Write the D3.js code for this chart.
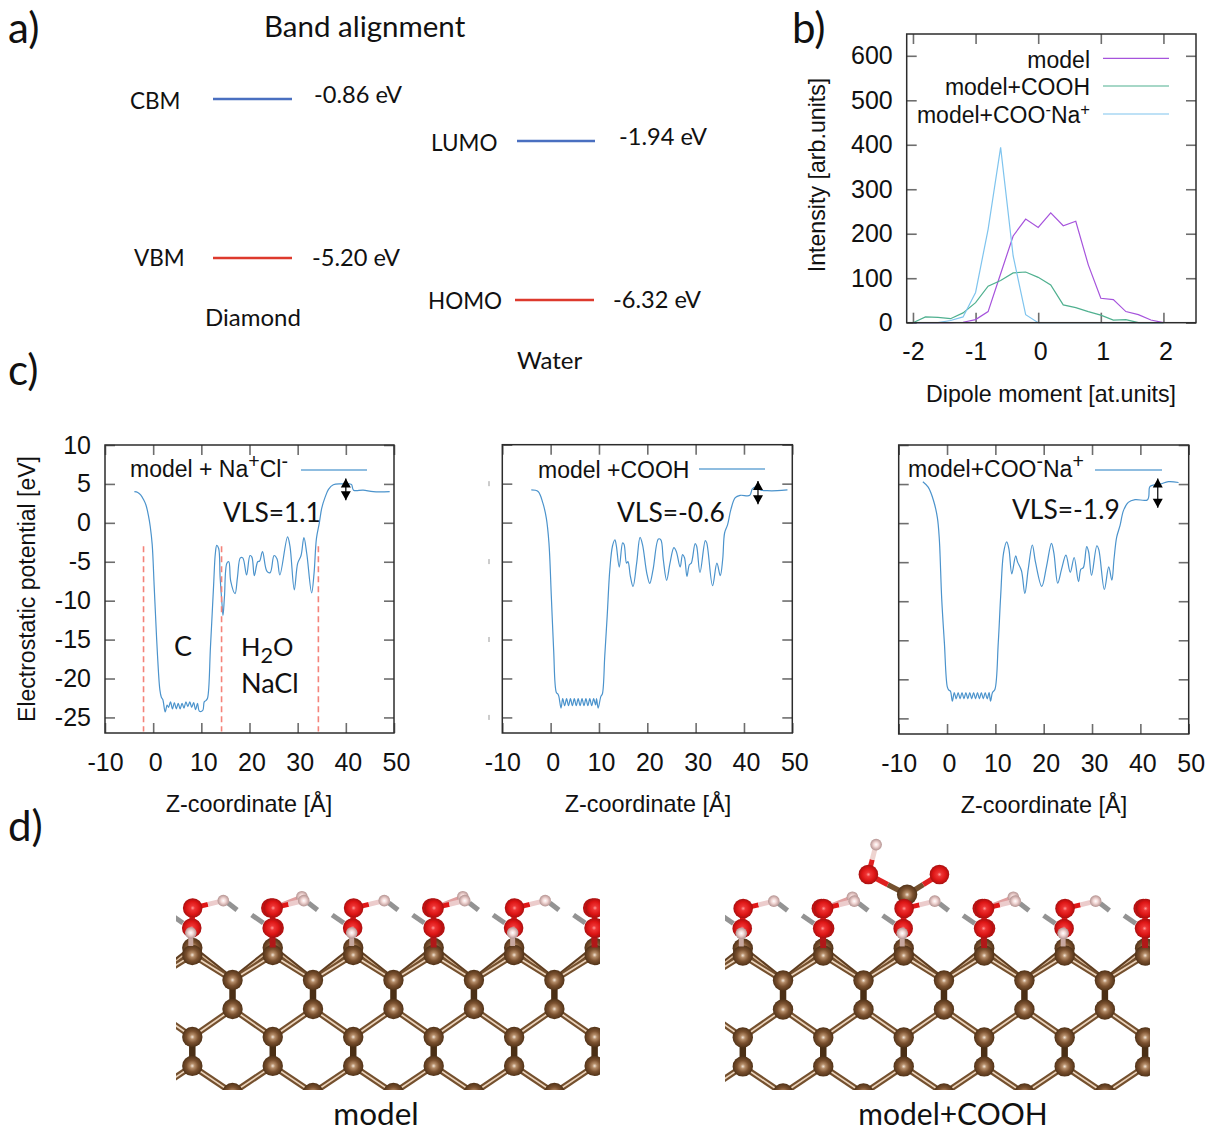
<!DOCTYPE html>
<html>
<head>
<meta charset="utf-8">
<script src="https://cdn.jsdelivr.net/npm/d3@7"></script>
<style>
html,body{margin:0;padding:0;background:#fff;}
svg{display:block;}
text{fill:#111;}
</style>
</head>
<body>
<svg id="chart" width="1216" height="1134"></svg>
<script>
// ---------- Panel a: band alignment (eV) ----------
const diamondBands = [{name:"CBM", value:-0.86, label:"-0.86 eV"},{name:"VBM", value:-5.20, label:"-5.20 eV"}];
const waterBands = [{name:"LUMO", value:-1.94, label:"-1.94 eV"},{name:"HOMO", value:-6.32, label:"-6.32 eV"}];

// ---------- Panel b: dipole histogram ----------
const dipoleBins = [-2,-1.8,-1.6,-1.4,-1.2,-1,-0.8,-0.6,-0.4,-0.2,0,0.2,0.4,0.6,0.8,1,1.2,1.4,1.6,1.8,2];
const modelIntensity = [0,0,0,0,1,7,25,110,195,233,214,247,218,228,130,55,52,25,18,6,0];
const coohIntensity = [0,13,12,9,22,45,82,95,112,114,102,85,40,34,25,17,6,7,0,0,0];
const cooNaIntensity = [0,0,0,5,13,68,210,394,150,18,0,0,0,0,0,0,0,0,0,0,0];
const dipoleTicks = [-2,-1,0,1,2];
const intensityTicks = [0,100,200,300,400,500,600];

// ---------- Panel c: electrostatic potential ----------
const zNaCl = [-3.9,-3.2,-2.6,-2,-1.5,-1,-0.6,-0.2,0.2,0.5,0.9,1.4,1.7,2,2.5,2.9,3.2,3.6,4,4.4,4.8,5.2,5.6,6,6.4,6.8,7.2,7.6,8,8.4,8.8,9.2,9.6,10.3,10.6,11,11.3,11.9,12.55,12.9,13.2,13.6,13.9,14.3,14.5,14.8,15.3,15.7,16.1,17,17.5,18.1,18.6,19.4,20.1,20.5,21,21.7,22.1,22.7,23.6,24.3,25.1,25.7,26.3,27.9,28.4,29.3,30,30.7,31.3,31.9,32.9,33.4,33.9,34.5,35,35.7,36.4,37.4,39.1,40.8,41.2,41.6,43.6,45.7,49.1];
const vNaCl = [4,3.9,3.6,3,2.3,1,-0.5,-2.8,-8,-12,-17,-21.5,-22.4,-22.7,-24.3,-23.4,-23.7,-23,-23.9,-23.1,-23.9,-23.2,-23.9,-23.2,-23.8,-23,-23.6,-23,-23.7,-23.1,-24,-23.2,-24.2,-24.1,-23,-22.8,-22.5,-15.9,-8,-4,-2.9,-3.3,-7,-10.5,-11.9,-9.5,-5.2,-5,-7.5,-9.1,-7,-4.5,-4.5,-6.7,-4.2,-4.4,-6.8,-5,-4.9,-3.7,-6.2,-6.4,-4.2,-4.6,-6.7,-1.8,-3,-8.6,-5.2,-4.2,-1.9,-4,-9,-6.5,-2,0,1.9,3.3,4.3,4.9,5,5,4.9,4.2,4.2,4,4];

const zCOOH = [-4,-2.6,-1.6,-0.9,-0.35,0.14,0.62,1.18,1.5,1.7,2.15,2.5,2.9,3.3,3.7,4.1,4.5,4.9,5.3,5.7,6.1,6.5,6.9,7.3,7.7,8.1,8.5,8.9,9.3,9.5,9.83,10.4,10.7,11.2,11.7,12.25,12.8,13.3,13.6,14.2,14.9,15.2,15.7,16,16.5,17.05,17.8,18.5,19,19.9,20.5,21.2,22.3,22.8,23.3,24,24.7,25.5,26,26.8,27.3,27.7,28.2,28.7,29.1,29.9,30.2,30.9,32,32.3,33.5,34.4,35.1,35.6,36,36.6,37.3,38.2,39.2,41.2,41.7,42.4,43.4,44.8,46.9,49];
const vCOOH = [4.2,4,2.5,0.6,-2.6,-9.4,-16.3,-21.8,-22,-22.3,-23.8,-22.6,-23.5,-22.6,-23.5,-22.6,-23.5,-22.6,-23.5,-22.6,-23.5,-22.6,-23.5,-22.6,-23.5,-22.6,-23.5,-22.6,-23.4,-22.6,-23.8,-22.3,-22,-17.1,-12,-6,-3,-2.2,-3,-5.7,-2.6,-2.8,-5.2,-5,-6.9,-8.2,-5.2,-1.9,-2.8,-6.5,-7.8,-6,-2.1,-2.2,-4.7,-7.4,-5.2,-3.2,-3.7,-5.7,-4.1,-4.5,-6.9,-5.4,-5.2,-2.7,-3,-6.4,-2.3,-2.6,-8.1,-5.2,-6.8,-4.7,-1.3,-0.3,1.7,3.2,3.5,3.5,4.3,4.6,4.2,4.1,4.1,4.2];

const zCOONa = [-5,-3.9,-2.8,-2,-1.6,-1.1,-0.55,0.07,0.4,0.7,1.1,1.5,1.9,2.3,2.7,3.1,3.5,3.9,4.3,4.7,5.1,5.5,5.9,6.3,6.7,7.1,7.5,7.9,8.3,8.7,9,9.4,9.9,10.6,11.1,11.7,12.35,12.8,13.4,14.2,14.6,15.4,16.1,16.8,17.65,18.3,19.6,20.6,21.6,22.1,22.9,23.7,24.6,25.5,26.3,27.2,27.7,28.2,28.9,29.3,29.9,31,31.4,32.55,33.45,34.1,34.55,35.1,35.8,36.5,37.5,38.9,41.5,41.9,42.3,44.1,45.8,47.9];
const vCOONa = [5.3,4.6,2.9,0.7,-2,-9.7,-15.3,-21,-21.4,-21.5,-22.8,-21.7,-22.5,-21.7,-22.5,-21.7,-22.5,-21.7,-22.5,-21.7,-22.5,-21.7,-22.5,-21.7,-22.5,-21.7,-22.5,-21.7,-22.5,-21.7,-22.8,-21.7,-21.3,-15.3,-9.3,-3.8,-2.4,-3.3,-6.5,-4.2,-5,-6.1,-9,-5.9,-2.8,-5,-8.1,-5.5,-2.6,-3.8,-7.7,-5.9,-4.1,-6.3,-4.4,-7.5,-5.9,-5.7,-3,-3.7,-6.7,-2.9,-3.4,-8.5,-5.6,-7.3,-4.6,-1.8,-0.3,1.6,2.65,3,3,4.6,4.8,5,5.3,5.2];

const zTicks = [-10,0,10,20,30,40,50];
const potentialTicks = [10,5,0,-5,-10,-15,-20,-25];
const croppedTickValues = [5,-5,-15,-25];
const regionBoundariesZ = [-2,14.2,34.3];
const regionBoundaryTop = -3;
const regionBoundaryBottom = -26.8;
const vlsArrowZ = [40,42.9,43.6];
const vlsArrowTop = [5.7,5.35,5.7];
const vlsArrowBottom = [2.9,2.35,1.97];

// ---------- Panel d: atomic structure (angstrom) ----------
const surfaceColumnPitch = 4.28;
const carbonLayerDepth = [0,1.33,2.87,4.36,5.9,7.34];
const carbonLayerHalfShift = [0,1,1,0,0,1];
const surfaceColumns = [-1,0,1,2,3,4,5,6];
const columnsWithFrontHydrogen = [-1,0,2,4,6];
const waterUpperO = [0.02,-2.5];
const waterLowerO = [-0.03,-1.44];
const waterSideH = [1.65,-2.89];
const waterBackH = [1.55,-3.1];
const waterLowH = [-0.08,-1.18];
const stickA = [[1.9,-2.77],[2.38,-2.39]];
const stickB = [[-1.12,-2.13],[-0.5,-1.7]];
const backCarbon = [0,-0.38];
const coohColumn = 2;
const coohC = [0.18,-3.24];
const coohOLeft = [-1.88,-4.31];
const coohORight = [1.9,-4.31];
const coohH = [-1.47,-5.9];

// ---------- drawing ----------
const svg = d3.select("#chart");
const sansTick = "'Liberation Sans', Arial, sans-serif";
const sansNote = "Lato, 'Open Sans', sans-serif";
const tickFormat = d => String(d);

function label(x, y, str, size, opts = {}) {
  const t = svg.append("text").attr("x", x).attr("y", y)
    .attr("font-family", opts.family || sansNote).attr("font-size", size)
    .attr("text-anchor", opts.anchor || "start");
  if (opts.rotate) t.attr("transform", `rotate(${opts.rotate} ${x} ${y})`);
  const supScale = opts.supScale || 0.85;
  (Array.isArray(str) ? str : [[str, 0]]).forEach(([s, shift]) => {
    t.append("tspan").attr("baseline-shift", shift ? shift + "px" : null)
      .attr("font-size", shift ? size * supScale : null).text(s);
  });
  return t;
}

// panel letters and notes
label(8, 43, "a)", 42);
label(792, 43, "b)", 42);
label(8, 385, "c)", 42);
label(8, 841, "d)", 42);
label(264, 37, "Band alignment", 29.5);

// panel a
const diamondY = d3.scaleLinear().domain([-0.86,-5.20]).range([99,258]);
const waterY = d3.scaleLinear().domain([-1.94,-6.32]).range([141,300]);
const bandColor = v => v > -3 ? "#4a6fc0" : "#dd3a2d";
function bandLines(bands, yScale, x0, x1, nameX, valueX, valueDy, nameDy) {
  bands.forEach((b, i) => {
    svg.append("line").attr("x1", x0[i]).attr("x2", x1[i])
      .attr("y1", yScale(b.value)).attr("y2", yScale(b.value))
      .attr("stroke", bandColor(b.value)).attr("stroke-width", 2.6);
    label(nameX[i], yScale(b.value) + nameDy[i], b.name, 22.5);
    label(valueX[i], yScale(b.value) + valueDy[i], b.label, 23.6);
  });
}
bandLines(diamondBands, diamondY, [213,213], [292,292], [130,134], [314,312], [4,8], [10,8]);
bandLines(waterBands, waterY, [517,515], [595,594], [431,428], [619,613], [4,8], [10,9]);
label(205, 326, "Diamond", 24);
label(517, 369, "Water", 24);

// frames and axes
function styleAxis(g) {
  g.selectAll(".domain").remove();
  g.selectAll(".tick line").attr("stroke", "#6e6e6e").attr("stroke-width", 1.6);
}
function framedPanel(box, xDom, yDom, xTicks, yTicks, showY) {
  const x = d3.scaleLinear().domain(xDom).range([box.l, box.r]);
  const y = d3.scaleLinear().domain(yDom).range([box.b, box.t]);
  const tk = 10;
  const bottom = svg.append("g").attr("transform", `translate(0,${box.b})`)
    .call(d3.axisBottom(x).tickValues(xTicks).tickSize(-tk).tickPadding(20).tickFormat(tickFormat));
  const top = svg.append("g").attr("transform", `translate(0,${box.t})`)
    .call(d3.axisTop(x).tickValues(xTicks).tickSize(-tk).tickFormat(""));
  const left = svg.append("g").attr("transform", `translate(${box.l},0)`)
    .call(d3.axisLeft(y).tickValues(yTicks).tickSize(-tk).tickPadding(14).tickFormat(showY ? tickFormat : ""));
  const right = svg.append("g").attr("transform", `translate(${box.r},0)`)
    .call(d3.axisRight(y).tickValues(yTicks).tickSize(-tk).tickFormat(""));
  [bottom, top, left, right].forEach(styleAxis);
  [bottom, left].forEach(g => g.selectAll("text")
    .attr("font-family", sansTick).attr("font-size", 25).attr("fill", "#111"));
  bottom.selectAll("text").attr("dx", d => d < 0 ? 0 : 2);
  const frame = svg.append("rect").attr("x", box.l).attr("y", box.t)
    .attr("width", box.r - box.l).attr("height", box.b - box.t)
    .attr("fill", "none").attr("stroke", "#2c2c2c").attr("stroke-width", 1.5);
  return {x, y, frame};
}

// panel b
const bBox = {l:906.7, r:1196, t:34, b:322.7};
const bScales = framedPanel(bBox, [-2.1,2.52], [0,649], dipoleTicks, intensityTicks, true);
const bLine = d3.line().x((d, i) => bScales.x(dipoleBins[i])).y(d => bScales.y(d));
const bSeries = [
  {values:modelIntensity, color:"#a653dc", name:[["model",0]], ly:58.3, ty:68},
  {values:coohIntensity, color:"#4fb08f", name:[["model+COOH",0]], ly:86, ty:95},
  {values:cooNaIntensity, color:"#7fc4ee", name:[["model+COO",0],["-",8],["Na",0],["+",8]], ly:114, ty:123}
];
bSeries.forEach(s => {
  svg.append("path").attr("d", bLine(s.values)).attr("fill", "none")
    .attr("stroke", s.color).attr("stroke-width", 1.2);
  svg.append("line").attr("x1", 1103).attr("x2", 1169).attr("y1", s.ly).attr("y2", s.ly)
    .attr("stroke", s.color).attr("stroke-width", 1.2);
  label(1090, s.ty, s.name, 23, {anchor:"end", family:sansTick, supScale:0.72});
});
bScales.frame.raise();
label(825, 175, "Intensity [arb.units]", 23.2, {rotate:-90, anchor:"middle", family:sansTick});
label(1051, 402, "Dipole moment [at.units]", 23.2, {anchor:"middle", family:sansTick});

// panel c
const potLine = d3.line().curve(d3.curveCatmullRom.alpha(0.5));
const cPanels = [
  {box:{l:105, r:394, t:445, b:733}, z:zNaCl, v:vNaCl, showY:true,
   legend:[["model + Na",0],["+",9],["Cl",0],["-",9]], lx0:301, lx1:367, ly:470, tx:130, ty:477,
   vls:"VLS=1.1", vx:223, vy:522, xlab:249, xlaby:812},
  {box:{l:502.3, r:792.3, t:444.7, b:733}, z:zCOOH, v:vCOOH, showY:false,
   legend:[["model +COOH",0]], lx0:699, lx1:765, ly:469, tx:538, ty:478,
   vls:"VLS=-0.6", vx:617, vy:522, xlab:648, xlaby:812},
  {box:{l:898.7, r:1188.7, t:445, b:734}, z:zCOONa, v:vCOONa, showY:false,
   legend:[["model+COO",0],["-",9],["Na",0],["+",9]], lx0:1095, lx1:1162, ly:470, tx:908, ty:477,
   vls:"VLS=-1.9", vx:1012, vy:519, xlab:1044, xlaby:813}
];
cPanels.forEach((p, i) => {
  const {x, y} = framedPanel(p.box, [-10,50], [-27,10], zTicks, potentialTicks, p.showY);
  svg.append("path")
    .attr("d", potLine.x(d => x(d[0])).y(d => y(d[1]))(p.z.map((z, k) => [z, p.v[k]])))
    .attr("fill", "none").attr("stroke", "#4b93cc").attr("stroke-width", 1.2);
  svg.append("line").attr("x1", p.lx0).attr("x2", p.lx1).attr("y1", p.ly).attr("y2", p.ly)
    .attr("stroke", "#6aa7d6").attr("stroke-width", 1.3);
  label(p.tx, p.ty, p.legend, 23, {family:sansTick});
  label(p.vx, p.vy, p.vls, 26.4);
  label(p.xlab, p.xlaby, "Z-coordinate [\u00C5]", 23.4, {anchor:"middle", family:sansTick});
  // VLS arrow
  const ax = x(vlsArrowZ[i]), t = y(vlsArrowTop[i]), b = y(vlsArrowBottom[i]);
  svg.append("line").attr("x1", ax).attr("x2", ax).attr("y1", t).attr("y2", b).attr("stroke", "#000").attr("stroke-width", 1.2);
  const h = 9, w = 5;
  svg.append("path").attr("d", `M${ax},${t}L${ax-w},${t+h}L${ax+w},${t+h}Z M${ax},${b}L${ax-w},${b-h}L${ax+w},${b-h}Z`).attr("fill", "#000");
  if (p.showY) {
    regionBoundariesZ.forEach(zb => {
      svg.append("line").attr("x1", x(zb)).attr("x2", x(zb))
        .attr("y1", y(regionBoundaryTop)).attr("y2", y(regionBoundaryBottom))
        .attr("stroke", "#f4837a").attr("stroke-width", 1.6).attr("stroke-dasharray", "6,4");
    });
  }
  if (i === 1) {
    croppedTickValues.forEach(v => {
      svg.append("line").attr("x1", p.box.l - 13.3).attr("x2", p.box.l - 13.3)
        .attr("y1", y(v) - 2.5).attr("y2", y(v) + 2.5)
        .attr("stroke", "#999").attr("stroke-width", 1);
    });
  }
});
label(34.5, 589, "Electrostatic potential [eV]", 23, {rotate:-90, anchor:"middle", family:sansTick});
label(183, 656, "C", 27, {anchor:"middle"});
label(241, 656, [["H",0],["2",-7],["O",0]], 25.5);
label(241, 693, "NaCl", 27);

// panel d
const defs = svg.append("defs");
function ballGradient(id, stops) {
  const g = defs.append("radialGradient").attr("id", id).attr("cx", "50%").attr("cy", "50%").attr("r", "52%");
  stops.forEach(s => g.append("stop").attr("offset", s[0]).attr("stop-color", s[1]));
}
ballGradient("ballC", [["0%","#f3e6d8"],["22%","#b48c68"],["55%","#7c5230"],["100%","#4c2f15"]]);
ballGradient("ballO", [["0%","#ff9a9a"],["22%","#ee3434"],["65%","#dc1414"],["100%","#a01010"]]);
ballGradient("ballH", [["0%","#ffffff"],["40%","#f3d8d6"],["100%","#b08e8c"]]);
const atomRadius = {C:10.2, O:9.8, H:5.8};
const pxPerAngstrom = 18.8;

function structure(id, clip, originX, originY, withCOOH) {
  const sx = d3.scaleLinear().domain([0,1]).range([originX, originX + pxPerAngstrom]);
  const sy = d3.scaleLinear().domain([0,1]).range([originY, originY + pxPerAngstrom]);
  defs.append("clipPath").attr("id", id).append("rect")
    .attr("x", clip[0]).attr("y", clip[1]).attr("width", clip[2] - clip[0]).attr("height", clip[3] - clip[1]);
  const root = svg.append("g").attr("clip-path", `url(#${id})`);
  const bond = (a, b, color, w, hl) => {
    root.append("line").attr("x1", sx(a[0])).attr("y1", sy(a[1])).attr("x2", sx(b[0])).attr("y2", sy(b[1]))
      .attr("stroke", color).attr("stroke-width", w);
    if (hl) root.append("line").attr("x1", sx(a[0])).attr("y1", sy(a[1])).attr("x2", sx(b[0])).attr("y2", sy(b[1]))
      .attr("stroke", hl).attr("stroke-width", w * 0.28);
  };
  const mid = (a, b) => [(a[0] + b[0]) / 2, (a[1] + b[1]) / 2];
  const twoTone = (a, b, c1, c2, w) => { bond(a, mid(a, b), c1, w); bond(mid(a, b), b, c2, w); };
  const ball = (p, el) => root.append("circle").attr("cx", sx(p[0])).attr("cy", sy(p[1]))
    .attr("r", atomRadius[el]).attr("fill", `url(#ball${el})`);
  const at = (col, off) => [col * surfaceColumnPitch + off[0], off[1]];
  const lattice = (col, layer) => [ (col + carbonLayerHalfShift[layer] * 0.5) * surfaceColumnPitch, carbonLayerDepth[layer] ];

  surfaceColumns.forEach(c => {
    [stickA, stickB].forEach(s => bond(at(c, s[0]), at(c, s[1]), "#939393", 5));
  });
  surfaceColumns.forEach(c => {
    bond(at(c, backCarbon), lattice(c, 1), "#5e3d20", 5.6, "#d8b898");
    bond(at(c, backCarbon), lattice(c - 1, 1), "#5e3d20", 5.6, "#d8b898");
    ball(at(c, backCarbon), "C");
  });
  surfaceColumns.forEach(c => {
    bond(lattice(c, 0), lattice(c, 1), "#74502e", 6, "#ecd4bc");
    bond(lattice(c, 0), lattice(c - 1, 1), "#74502e", 6, "#ecd4bc");
    bond(lattice(c, 1), lattice(c, 2), "#4a2f15", 6.5);
    bond(lattice(c, 2), lattice(c, 3), "#74502e", 6, "#ecd4bc");
    bond(lattice(c, 2), lattice(c + 1, 3), "#74502e", 6, "#ecd4bc");
    bond(lattice(c, 3), lattice(c, 4), "#4a2f15", 6.5);
    bond(lattice(c, 4), lattice(c, 5), "#74502e", 6, "#ecd4bc");
    bond(lattice(c, 4), lattice(c - 1, 5), "#74502e", 6, "#ecd4bc");
  });
  surfaceColumns.forEach(c => carbonLayerDepth.forEach((d, l) => ball(lattice(c, l), "C")));
  if (withCOOH) {
    const q = off => at(coohColumn, off);
    twoTone(q(coohC), q(coohOLeft), "#74502e", "#e02020", 5.4);
    twoTone(q(coohC), q(coohORight), "#74502e", "#e02020", 5.4);
    twoTone(q(coohOLeft), q(coohH), "#e02020", "#eed4d0", 5);
    ball(q(coohH), "H");
    ball(q(coohC), "C");
    ball(q(coohOLeft), "O");
    ball(q(coohORight), "O");
  }
  surfaceColumns.forEach(c => {
    const front = columnsWithFrontHydrogen.includes(c);
    if (!front) bond(at(c, [0, -0.4]), at(c, waterLowerO), "#b01818", 6);
    bond(at(c, waterLowerO), at(c, waterUpperO), "#e01818", 5.5);
    if (!front) {
      bond(at(c, waterUpperO), at(c, waterBackH), "#e0a0a0", 4.5);
      ball(at(c, waterBackH), "H");
      ball(at(c, [waterUpperO[0] - 0.12, waterUpperO[1]]), "O");
      ball(at(c, [waterLowerO[0] + 0.1, waterLowerO[1]]), "O");
    }
    twoTone(at(c, waterUpperO), at(c, waterSideH), "#e01818", "#eccccc", 4.8);
    ball(at(c, waterSideH), "H");
    ball(at(c, waterLowerO), "O");
    ball(at(c, waterUpperO), "O");
    if (front) {
      bond(at(c, [waterLowH[0], waterLowH[1]]), at(c, [waterLowH[0], waterLowH[1] + 0.7]), "#c8a8a0", 5);
      ball(at(c, waterLowH), "H");
    }
  });
}
structure("clipModel", [176, 835, 600, 1090], 192.3, 955, false);
structure("clipCOOH", [725, 835, 1150, 1090], 742.8, 955.5, true);
label(376, 1125, "model", 31.5, {anchor:"middle"});
label(953, 1125, "model+COOH", 30, {anchor:"middle"});
</script>
</body>
</html>
